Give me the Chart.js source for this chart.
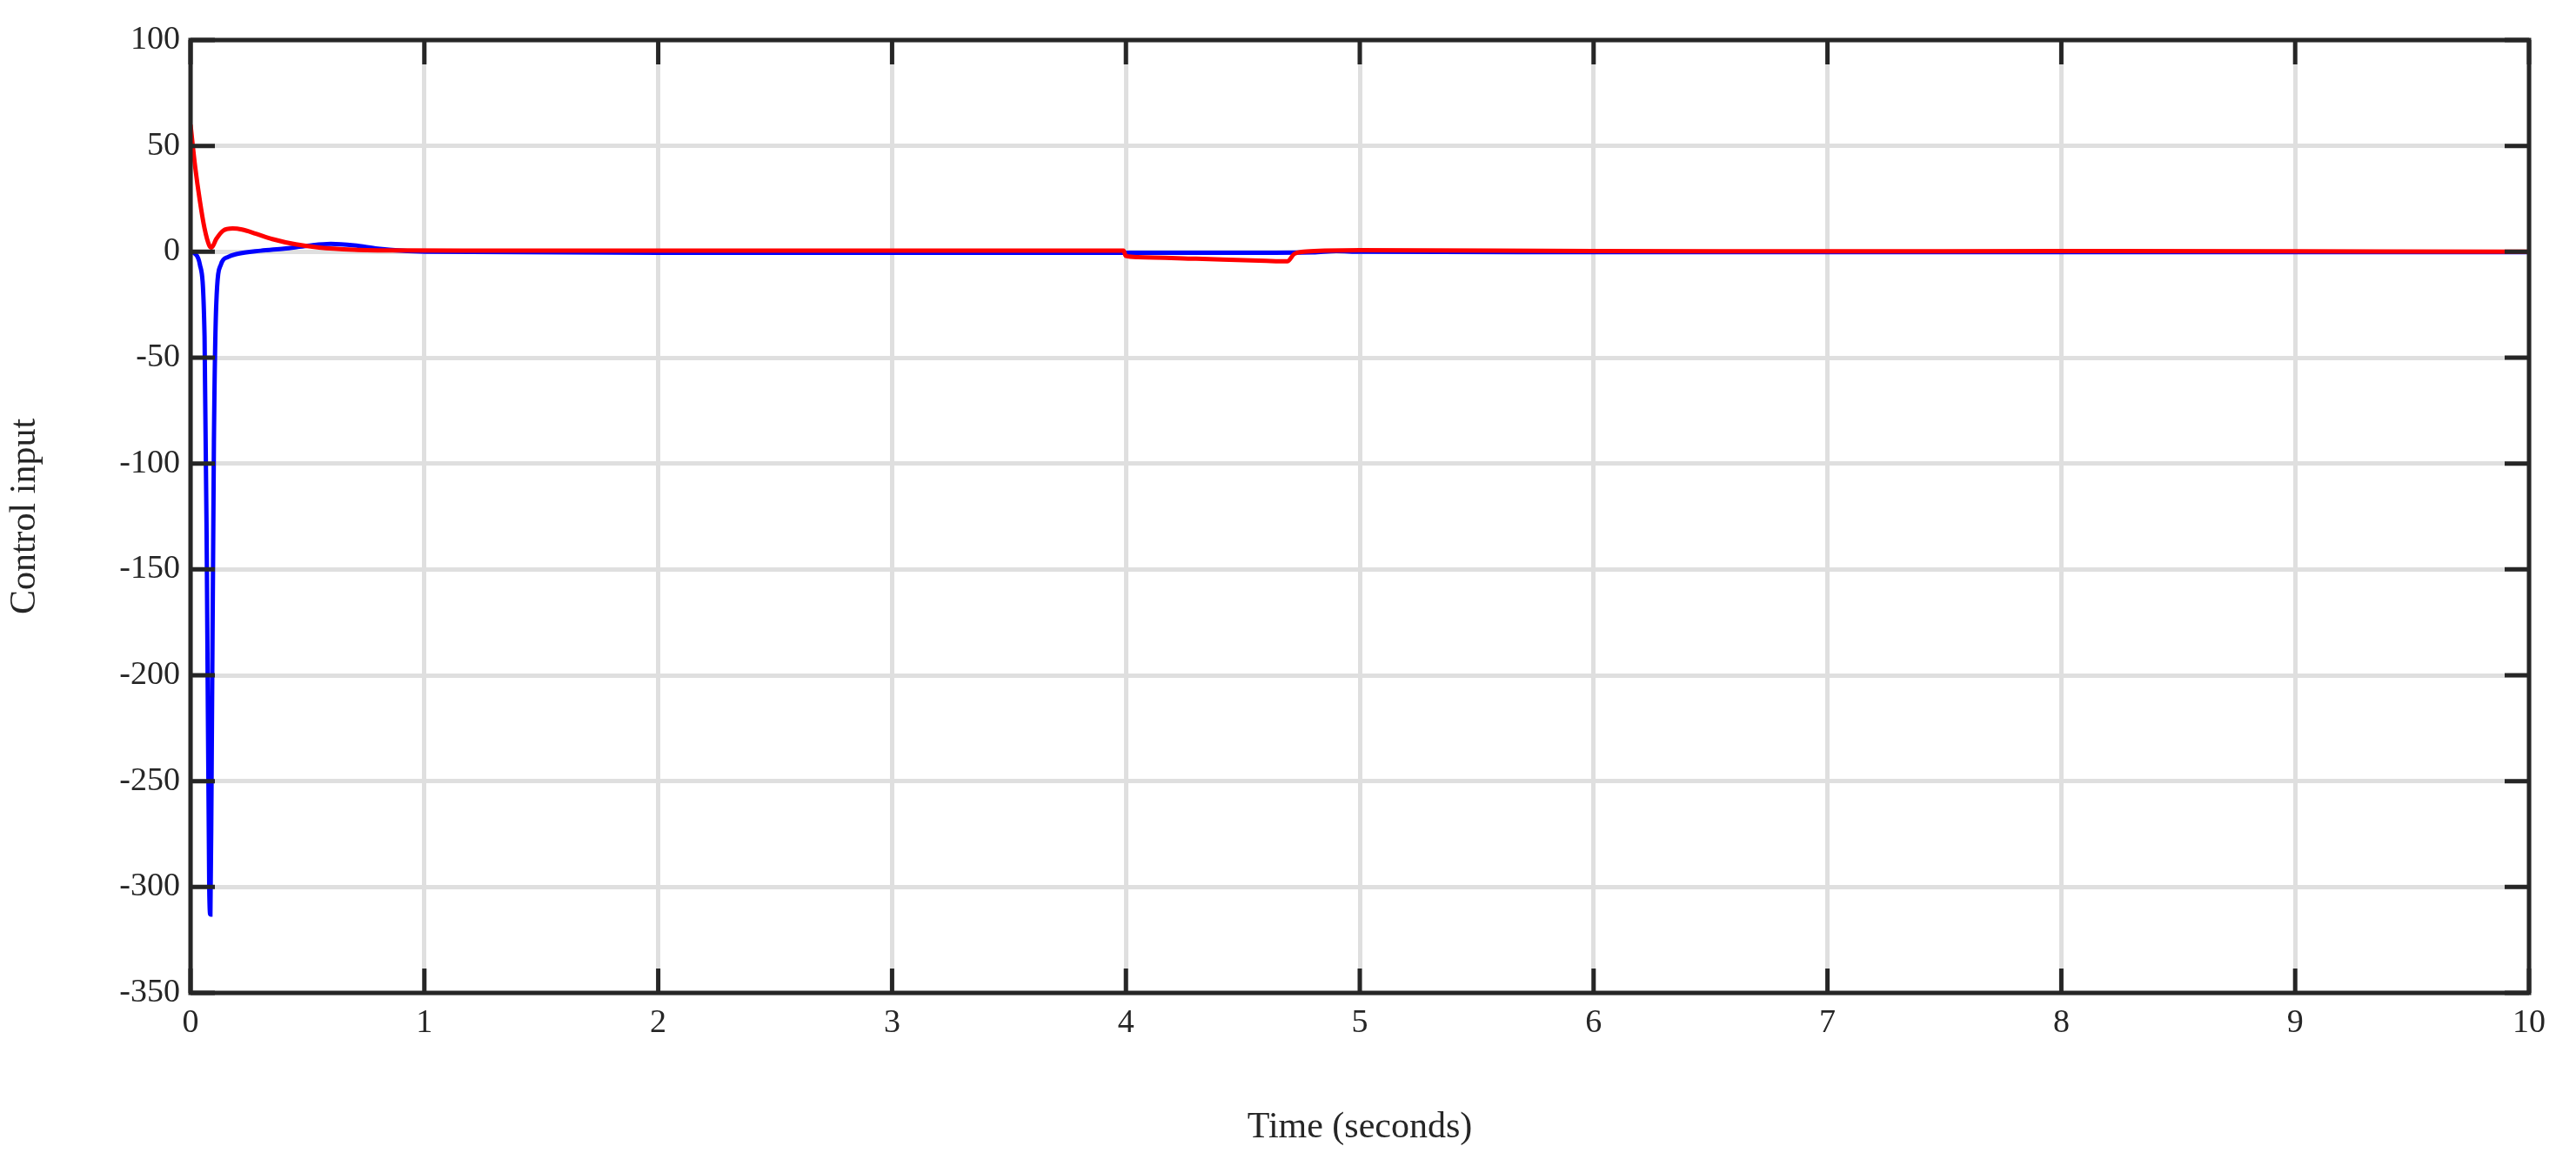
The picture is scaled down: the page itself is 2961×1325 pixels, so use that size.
<!DOCTYPE html>
<html>
<head>
<meta charset="utf-8">
<script src="https://cdn.jsdelivr.net/npm/chart.js@4/dist/chart.umd.min.js"></script>
<style>
  html, body { margin: 0; padding: 0; background: #fff; }
  #wrap { width: 2961px; height: 1325px; }
</style>
</head>
<body>
<div id="wrap"><canvas id="chart"></canvas></div>
<script>
// control input 1 (red)
const redTime = [0, 0.02, 0.04, 0.06, 0.08, 0.09, 0.11, 0.14, 0.18, 0.22, 0.28, 0.35, 0.45, 0.55, 0.7, 0.9, 1.2, 2, 3, 3.99, 4.0, 4.05, 4.3, 4.6, 4.69, 4.72, 4.76, 4.85, 5.0, 6, 7, 8, 9, 10];
const redValue = [60, 40, 24, 11, 3, 2, 6, 10, 11, 10.5, 8.5, 6, 3.5, 2, 1, 0.6, 0.5, 0.5, 0.5, 0.5, -2, -2.5, -3.3, -4.3, -4.5, -1, 0, 0.5, 0.8, 0.3, 0.2, 0.3, 0.2, 0];
// control input 2 (blue)
const blueTime = [0, 0.02, 0.04, 0.06, 0.07, 0.08, 0.085, 0.09, 0.1, 0.11, 0.13, 0.16, 0.2, 0.3, 0.4, 0.5, 0.6, 0.7, 0.8, 0.9, 1.0, 2, 4, 4.5, 4.8, 4.9, 5.0, 6, 8, 10];
const blueValue = [0, -1, -6, -40, -150, -300, -313, -250, -90, -25, -6, -2.5, -1, 0.5, 1.5, 2.8, 3.7, 3, 1.5, 0.5, 0, -0.5, -0.5, -0.5, -0.3, 0.3, 0, -0.2, -0.2, -0.2];
const xTicks = [0, 1, 2, 3, 4, 5, 6, 7, 8, 9, 10];
const yTicks = [100, 50, 0, -50, -100, -150, -200, -250, -300, -350];

const frameColor = '#262626';
const fontFamily = '"Liberation Serif", "DejaVu Serif", serif';

const toPoints = (xs, ys) => xs.map((x, i) => ({x: x, y: ys[i]}));

// frame + inward tick marks like MATLAB
const framePlugin = {
    id: 'frame',
    afterDatasetsDraw(chart) {
        const {ctx, chartArea: a, scales} = chart;
        ctx.save();
        ctx.strokeStyle = frameColor;
        ctx.lineWidth = 5;
        const len = 28;
        ctx.beginPath();
        xTicks.forEach(v => {
            const px = scales.x.getPixelForValue(v);
            ctx.moveTo(px, a.bottom); ctx.lineTo(px, a.bottom - len);
            ctx.moveTo(px, a.top); ctx.lineTo(px, a.top + len);
        });
        yTicks.forEach(v => {
            const py = scales.y.getPixelForValue(v);
            ctx.moveTo(a.left, py); ctx.lineTo(a.left + len, py);
            ctx.moveTo(a.right, py); ctx.lineTo(a.right - len, py);
        });
        ctx.stroke();
        ctx.strokeRect(a.left, a.top, a.right - a.left, a.bottom - a.top);
        ctx.restore();
    }
};

new Chart(document.getElementById('chart').getContext('2d'), {
    type: 'line',
    data: {
        datasets: [
            {data: toPoints(redTime, redValue), borderColor: '#ff0000', borderWidth: 5, pointRadius: 0, tension: 0.3, cubicInterpolationMode: 'monotone'},
            {data: toPoints(blueTime, blueValue), borderColor: '#0000ff', borderWidth: 5, pointRadius: 0, cubicInterpolationMode: 'monotone'}
        ]
    },
    options: {
        responsive: true,
        maintainAspectRatio: false,
        animation: false,
        layout: {padding: {top: 46, right: 54, left: 0, bottom: 0}},
        plugins: {legend: {display: false}, tooltip: {enabled: false}},
        scales: {
            x: {
                type: 'linear', min: 0, max: 10,
                afterBuildTicks: s => { s.ticks = xTicks.map(v => ({value: v})); },
                afterFit: s => { s.height = 184; },
                grid: {color: '#dfdfdf', lineWidth: 5, drawTicks: false},
                border: {display: false},
                ticks: {color: frameColor, font: {family: fontFamily, size: 38}, padding: 12, maxRotation: 0},
                title: {display: true, text: 'Time (seconds)', color: frameColor, font: {family: fontFamily, size: 42}, padding: {top: 4}}
            },
            y: {
                min: -350, max: 100,
                afterBuildTicks: s => { s.ticks = yTicks.map(v => ({value: v})); },
                afterFit: s => { s.width = 219; },
                grid: {color: '#dfdfdf', lineWidth: 5, drawTicks: false},
                border: {display: false},
                ticks: {color: frameColor, font: {family: fontFamily, size: 38}, padding: 12},
                title: {display: true, text: 'Control input', color: frameColor, font: {family: fontFamily, size: 42}, padding: {bottom: 6}}
            }
        }
    },
    plugins: [framePlugin]
});
</script>
</body>
</html>
